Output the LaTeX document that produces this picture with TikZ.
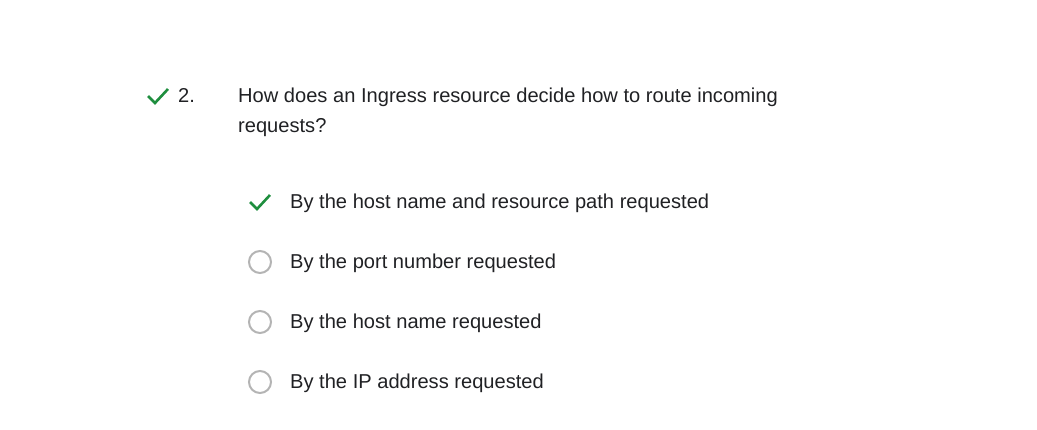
\documentclass[tikz,border=0pt]{standalone}
\usepackage{fontspec}
\setmainfont{Liberation Sans}
\definecolor{quizgreen}{HTML}{1E8E3E}
\definecolor{quiztext}{HTML}{202124}
\definecolor{quizgray}{HTML}{B4B4B4}
\tikzset{
  qtext/.style={anchor=base west, inner sep=0pt, text=quiztext, font=\fontsize{20.1}{24}\selectfont},
  tick/.style={draw=quizgreen, line width=2.6pt, line cap=butt, line join=miter},
  radio/.style={circle, draw=quizgray, line width=2pt, minimum size=22pt, inner sep=0pt}
}
\begin{document}
\begin{tikzpicture}[x=1pt, y=-1pt]
\useasboundingbox (0,0) rectangle (1037,429);
% question
\coordinate (qa) at (148,96); \coordinate (qb) at (155,103); \coordinate (qc) at (168,89);
\draw[tick] (qa) -- (qb) -- (qc); % tick.0
\node[qtext] (qnum) at (178,102) {2.};
\node[qtext] (qline1) at (238,102) {How does an Ingress resource decide how to route incoming};
\node[qtext] (qline2) at (238,132) {requests?};
% options
\coordinate (oa) at (250,202); \coordinate (ob) at (257,209); \coordinate (oc) at (270,195);
\draw[tick] (oa) -- (ob) -- (oc); % tick.1
\node[qtext] (opt1) at (290,208) {By the host name and resource path requested};
\node[radio] (radio2) at (260,262) {};
\node[qtext] (opt2) at (290,268) {By the port number requested};
\node[radio] (radio3) at (260,322) {};
\node[qtext] (opt3) at (290,328) {By the host name requested};
\node[radio] (radio4) at (260,382) {};
\node[qtext] (opt4) at (290,388) {By the IP address requested};
\end{tikzpicture}
\end{document}
